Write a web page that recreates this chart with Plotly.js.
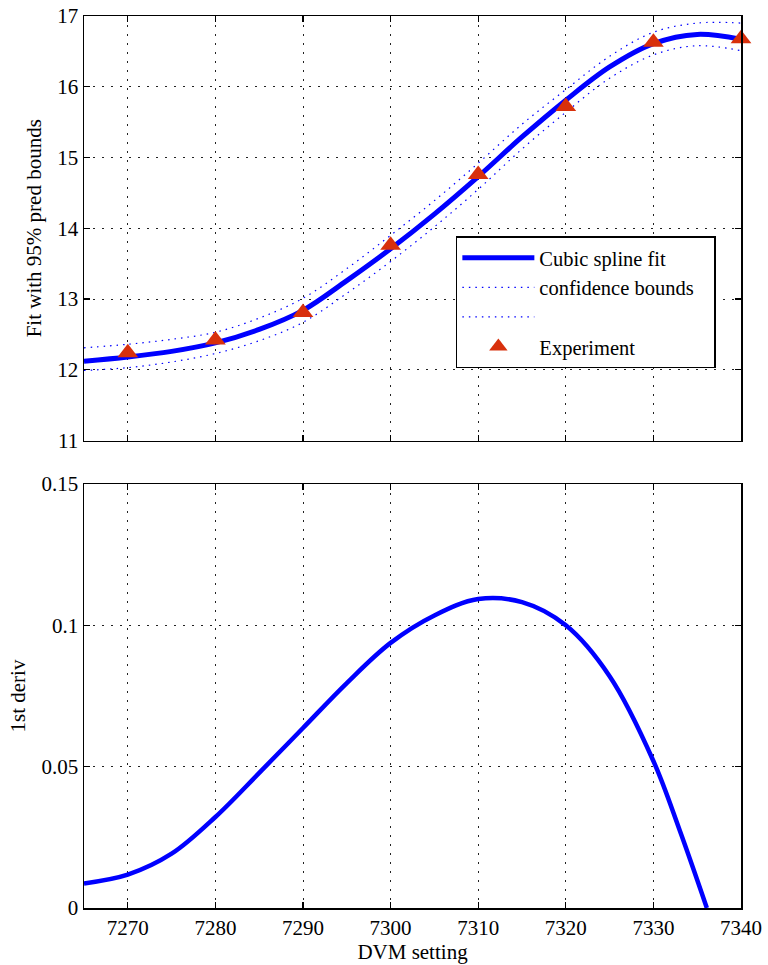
<!DOCTYPE html>
<html>
<head>
<meta charset="utf-8">
<script src="https://cdn.plot.ly/plotly-3.0.1.min.js"></script>
<style>html,body{margin:0;padding:0;background:#fff;}#chart{width:768px;height:965px;}</style>
</head>
<body>
<div id="chart"></div>
<script>
// Experiment points
const expX = [7270, 7280, 7290, 7300, 7310, 7320, 7330, 7340];
const expY = [12.24, 12.42, 12.81, 13.76, 14.76, 15.72, 16.63, 16.68];

// Cubic spline fit
const fitX = [7265, 7270, 7275, 7280, 7285, 7290, 7295, 7300, 7305, 7310, 7315, 7320, 7325, 7330, 7335, 7340];
const fitY = [12.12, 12.18, 12.26, 12.38, 12.57, 12.84, 13.26, 13.71, 14.20, 14.73, 15.29, 15.81, 16.28, 16.61, 16.74, 16.67];

// 95% prediction bounds
const upperY = [12.31, 12.36, 12.43, 12.53, 12.73, 13.01, 13.43, 13.90, 14.39, 14.92, 15.47, 15.96, 16.43, 16.77, 16.90, 16.90];
const lowerY = [11.99, 12.03, 12.11, 12.23, 12.41, 12.67, 13.08, 13.53, 14.02, 14.55, 15.12, 15.64, 16.12, 16.45, 16.58, 16.51];

// First derivative
const derivX = [7265, 7270, 7275, 7280, 7285, 7290, 7295, 7300, 7305, 7310, 7315, 7320, 7325, 7330, 7333, 7336.1];
const derivY = [0.0087, 0.0118, 0.0192, 0.0322, 0.0478, 0.0637, 0.0796, 0.0938, 0.1035, 0.1093, 0.1082, 0.100, 0.082, 0.052, 0.0275, 0.0];

// Tick labels
const xTicks = [7270, 7280, 7290, 7300, 7310, 7320, 7330, 7340];
const yTopTicks = [11, 12, 13, 14, 15, 16, 17];
const yBotTicks = [0, 0.05, 0.1, 0.15];
const yBotText = ['0', '0.05', '0.1', '0.15'];

const FONT = '"Liberation Serif", "Times New Roman", serif';
const BLUE = '#0000ff';
const RED = '#d8300c';
const NB = '\u00a0\u00a0\u00a0';

const traces = [
  {x: fitX, y: fitY, type: 'scatter', mode: 'lines', name: 'Cubic spline fit',
   line: {color: BLUE, width: 5, shape: 'spline', smoothing: 1}, xaxis: 'x', yaxis: 'y'},
  {x: fitX, y: upperY, type: 'scatter', mode: 'lines', name: 'confidence bounds' + NB,
   line: {color: BLUE, width: 1.2, dash: '1.5px,5px', shape: 'spline', smoothing: 1}, xaxis: 'x', yaxis: 'y'},
  {x: fitX, y: lowerY, type: 'scatter', mode: 'lines', name: ' ',
   line: {color: BLUE, width: 1.2, dash: '1.5px,5px', shape: 'spline', smoothing: 1}, xaxis: 'x', yaxis: 'y'},
  {x: expX, y: expY, type: 'scatter', mode: 'markers', name: 'Experiment',
   marker: {symbol: 'triangle-up', size: 18, color: RED, line: {width: 0}}, xaxis: 'x', yaxis: 'y', cliponaxis: false},
  {x: derivX, y: derivY, type: 'scatter', mode: 'lines', showlegend: false,
   line: {color: BLUE, width: 4.5, shape: 'spline', smoothing: 1}, xaxis: 'x2', yaxis: 'y2'}
];

const axisCommon = {
  showline: true, linecolor: '#000', linewidth: 1.5, mirror: 'allticks',
  ticks: 'inside', ticklen: 6, tickwidth: 1.2, tickcolor: '#000',
  showgrid: true, gridcolor: '#222', gridwidth: 1, griddash: '2px,7px',
  zeroline: false, tickfont: {family: FONT, size: 21, color: '#000'}
};

const layout = {
  width: 768, height: 965,
  margin: {l: 84, r: 27, t: 16, b: 57},
  paper_bgcolor: '#fff', plot_bgcolor: '#fff',
  font: {family: FONT, color: '#000'},
  showlegend: true,
  legend: {
    x: 0.566, y: 0.753, xanchor: 'left', yanchor: 'top',
    bgcolor: '#fff', bordercolor: '#000', borderwidth: 1.5,
    font: {family: FONT, size: 20.5, color: '#000'},
    itemwidth: 72, tracegroupgap: 0
  },
  xaxis: Object.assign({}, axisCommon, {
    domain: [0, 1], range: [7265, 7340], tickvals: xTicks, showticklabels: false, anchor: 'y'
  }),
  yaxis: Object.assign({}, axisCommon, {
    domain: [0.5241, 1], range: [11, 17], tickvals: yTopTicks, anchor: 'x',
    title: {text: 'Fit with 95% pred bounds', font: {family: FONT, size: 21, color: '#000'}, standoff: 10}
  }),
  xaxis2: Object.assign({}, axisCommon, {
    domain: [0, 1], range: [7265, 7340], tickvals: xTicks, anchor: 'y2',
    title: {text: 'DVM setting', font: {family: FONT, size: 21, color: '#000'}, standoff: 2}
  }),
  yaxis2: Object.assign({}, axisCommon, {
    domain: [0, 0.4753], range: [0, 0.15], tickvals: yBotTicks, ticktext: yBotText, anchor: 'x2',
    title: {text: '1st deriv', font: {family: FONT, size: 21, color: '#000'}, standoff: 10}
  })
};

Plotly.newPlot('chart', traces, layout, {staticPlot: true, displayModeBar: false});
</script>
</body>
</html>
